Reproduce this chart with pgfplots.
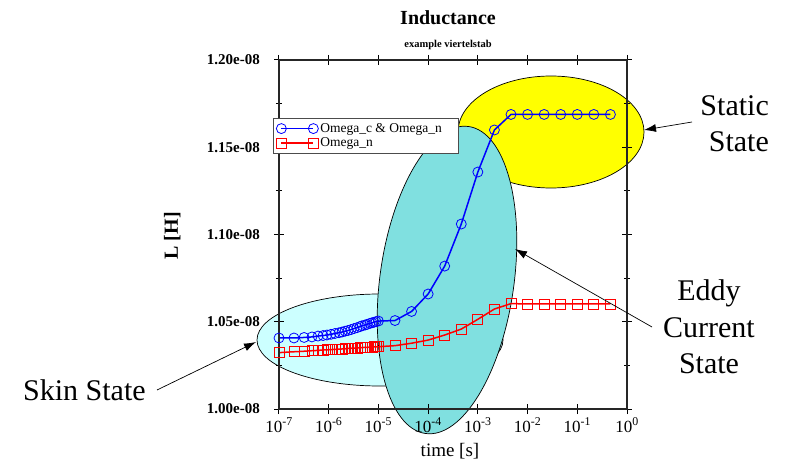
\documentclass[border=0pt]{standalone}
\usepackage{fontspec}
\setmainfont{Liberation Serif}
\usepackage{pgfplots}
\usepackage{pgfplotstable}
\pgfplotsset{compat=1.18}
\usetikzlibrary{arrows.meta}
\definecolor{skincyan}{RGB}{204,255,255}
\definecolor{eddyteal}{RGB}{128,224,224}
\definecolor{statyellow}{RGB}{255,255,0}
\definecolor{lblue}{RGB}{0,0,255}
\definecolor{lred}{RGB}{255,0,0}

\pgfplotstableread{
t L
1e-7 1.0407e-8
2e-7 1.0407e-8
3.2e-7 1.0410e-8
4.6e-7 1.0413e-8
6.1e-7 1.0418e-8
7.7e-7 1.0421e-8
9.2e-7 1.0424e-8
1.11e-6 1.0428e-8
1.34e-6 1.0433e-8
1.61e-6 1.0437e-8
1.85e-6 1.0441e-8
2.13e-6 1.0446e-8
2.45e-6 1.0450e-8
2.81e-6 1.0455e-8
3.23e-6 1.0461e-8
3.71e-6 1.0466e-8
4.26e-6 1.0472e-8
4.68e-6 1.0477e-8
5.37e-6 1.0481e-8
5.90e-6 1.0485e-8
6.78e-6 1.0491e-8
7.43e-6 1.0494e-8
8.15e-6 1.0497e-8
8.95e-6 1.0501e-8
1e-5 1.0504e-8
2.154e-5 1.0507e-8
4.642e-5 1.0559e-8
1e-4 1.0659e-8
2.154e-4 1.0819e-8
4.642e-4 1.1060e-8
1e-3 1.1358e-8
2.154e-3 1.1599e-8
4.642e-3 1.1688e-8
1e-2 1.1688e-8
2.154e-2 1.1688e-8
4.642e-2 1.1688e-8
0.1 1.1688e-8
0.2154 1.1688e-8
0.4642 1.1688e-8
}\bluedata

\pgfplotstableread{
t L
1e-7 1.0323e-8
2e-7 1.0328e-8
3.2e-7 1.0331e-8
4.6e-7 1.0334e-8
6.1e-7 1.0336e-8
7.7e-7 1.0338e-8
9.2e-7 1.0339e-8
1.11e-6 1.0340e-8
1.34e-6 1.0342e-8
1.61e-6 1.0343e-8
1.85e-6 1.0344e-8
2.13e-6 1.0345e-8
2.45e-6 1.0347e-8
2.81e-6 1.0348e-8
3.23e-6 1.0349e-8
3.71e-6 1.0350e-8
4.26e-6 1.0351e-8
4.68e-6 1.0352e-8
5.37e-6 1.0353e-8
5.90e-6 1.0353e-8
6.78e-6 1.0355e-8
7.43e-6 1.0355e-8
8.15e-6 1.0356e-8
8.95e-6 1.0356e-8
1e-5 1.0357e-8
2.154e-5 1.0363e-8
4.642e-5 1.0377e-8
1e-4 1.0395e-8
2.154e-4 1.0424e-8
4.642e-4 1.0458e-8
1e-3 1.0514e-8
2.154e-3 1.0573e-8
4.642e-3 1.0604e-8
1e-2 1.0602e-8
2.154e-2 1.0602e-8
4.642e-2 1.0602e-8
0.1 1.0602e-8
0.2154 1.0602e-8
0.4642 1.0602e-8
}\reddata

\begin{document}
\begin{tikzpicture}[x=1pt,y=1pt]
\useasboundingbox (0,0) rectangle (787,464);
% annotation regions
\draw[fill=skincyan, line width=0.7pt] (380,124) ellipse [x radius=123, y radius=46];
\draw[fill=statyellow, line width=0.7pt] (551,332) ellipse [x radius=93, y radius=56];
\begin{scope}[shift={(447,184)}, rotate=-8]
\draw[fill=eddyteal, line width=0.7pt] (0,0) ellipse [x radius=67, y radius=155];
\end{scope}

\begin{axis}[
  at={(279pt,55pt)}, anchor=south west,
  scale only axis, width=348pt, height=349pt,
  xmode=log, xmin=1e-7, xmax=1,
  ymin=1e-8, ymax=1.2e-8,
  clip=false, axis on top,
  axis line style={line width=1.3pt, black!85},
  xtick={1e-7,1e-6,1e-5,1e-4,1e-3,1e-2,1e-1,1},
  xticklabels={10\textsuperscript{-7},10\textsuperscript{-6},10\textsuperscript{-5},10\textsuperscript{-4},10\textsuperscript{-3},10\textsuperscript{-2},10\textsuperscript{-1},10\textsuperscript{0}},
  xminorticks=false,
  ytick={1e-8,1.05e-8,1.1e-8,1.15e-8,1.2e-8},
  yticklabels={1.00e-08,1.05e-08,1.10e-08,1.15e-08,1.20e-08},
  scaled y ticks=false,
  minor y tick num=1,
  tick align=center,
  major tick length=10pt, minor tick length=6pt,
  major tick style={line width=1pt, black},
  minor tick style={line width=0.9pt, black},
  yticklabel style={font=\bfseries\fontsize{15}{18}\selectfont, anchor=east, inner sep=0pt, xshift=-14pt},
  xticklabel style={font=\fontsize{17}{20}\selectfont, anchor=base, inner sep=0pt, yshift=-18pt},
  xlabel={time [s]},
  xlabel style={font=\fontsize{19}{22}\selectfont, at={(axis description cs:0.4914,0)}, anchor=base, inner sep=0pt, yshift=-47pt},
  ylabel={L [H]},
  ylabel style={font=\bfseries\fontsize{20}{24}\selectfont, at={(axis description cs:-0.307,0.496)}, anchor=center},
  legend style={at={(axis description cs:-0.0172,0.8338)}, anchor=north west,
    draw=black!70, line width=0.7pt, fill=white,
    font=\fontsize{13.5}{16}\selectfont, inner xsep=3pt, inner ysep=3pt, row sep=0pt},
  legend cell align=left,
  legend image code/.code={\draw[#1] plot coordinates {(0pt,0pt) (32pt,0pt)};},
]
\addplot[color=lblue, line width=1.5pt, mark=o, mark size=5pt, mark options={solid, line width=0.8pt, fill=none}] table[x=t, y=L] {\bluedata};
\addlegendentry{Omega\_c \& Omega\_n\hspace*{12pt}}
\addplot[color=lred, line width=1.5pt, mark=square, mark size=5pt, mark options={solid, line width=0.8pt, fill=none}] table[x=t, y=L] {\reddata};
\addlegendentry{Omega\_n}
\end{axis}

% title
\node[anchor=base, font=\bfseries\fontsize{20}{24}\selectfont, inner sep=0pt] at (448,439) {Inductance};
\node[anchor=base, font=\bfseries\fontsize{10.5}{12}\selectfont, inner sep=0pt] at (448,416) {example viertelstab};

% annotations
\draw[-{Latex[length=12pt,width=8pt]}, line width=0.7pt] (157,74) -- (256,122);
\draw[-{Latex[length=12pt,width=8pt]}, line width=0.7pt] (692,342) -- (644,334);
\draw[-{Latex[length=12pt,width=8pt]}, line width=0.7pt] (652,137) -- (515,215);

\node[anchor=base west, font=\fontsize{30}{36}\selectfont, inner sep=0pt] at (23,64) {Skin State};
\node[anchor=base east, font=\fontsize{30}{36}\selectfont, inner sep=0pt] at (769,348) {Static};
\node[anchor=base east, font=\fontsize{30}{36}\selectfont, inner sep=0pt] at (769,312) {State};
\node[anchor=base, font=\fontsize{30}{36}\selectfont, inner sep=0pt] at (709,164) {Eddy};
\node[anchor=base, font=\fontsize{30}{36}\selectfont, inner sep=0pt] at (709,127) {Current};
\node[anchor=base, font=\fontsize{30}{36}\selectfont, inner sep=0pt] at (709,91) {State};
\end{tikzpicture}
\end{document}
